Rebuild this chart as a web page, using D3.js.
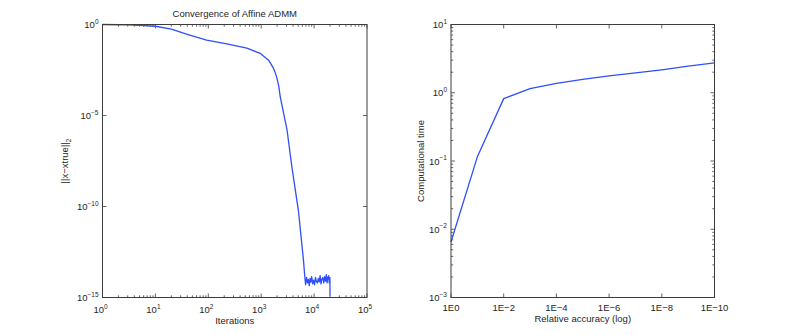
<!DOCTYPE html>
<html>
<head>
<meta charset="utf-8">
<script src="https://cdn.jsdelivr.net/npm/d3@7"></script>
<style>
body { margin: 0; background: #fff; }
svg text { font-family: "Liberation Sans", Arial, sans-serif; fill: #262626; font-size: 9.5px; }
</style>
</head>
<body>
<svg id="chart" width="789" height="335"></svg>
<script>
// left panel: ||x - xtrue||_2 against iterations
var iterations = [1, 2, 3, 5, 10, 20, 40, 60, 93, 224, 537, 955, 1380, 1700, 1870, 1990, 2150, 2300, 3080, 3800, 5050, 6300, 6650,
    6900, 7200, 7500, 7800, 8100, 8400, 8700, 9000, 9400, 9800, 10200, 10600, 11000, 11500, 12000, 12500, 13000,
    13500, 14000, 14600, 15200, 15800, 16400, 17000, 17600, 18200, 18800, 19400, 19900, 20000];
var errors = [1.0, 0.97, 0.95, 0.9, 0.8, 0.56, 0.29, 0.2, 0.14, 0.086, 0.05, 0.026, 0.011, 0.004, 0.002, 0.0011, 0.0004, 0.0001, 1.6e-6, 1.5e-8, 6e-11, 1.1e-13, 1.6e-14,
    5.0e-15, 1.26e-14, 6.3e-15, 1.0e-14, 4.5e-15, 1.12e-14, 7.1e-15, 1.41e-14, 5.6e-15, 8.9e-15, 5.0e-15, 1.26e-14, 7.9e-15,
    6.3e-15, 1.12e-14, 7.1e-15, 1.58e-14, 5.6e-15, 1.0e-14, 1.26e-14, 6.3e-15, 1.41e-14, 7.9e-15, 1.78e-14, 6.3e-15,
    1.26e-14, 1.58e-14, 6.3e-15, 1.26e-14, 1.26e-15];
var xTicksLeft = [1, 10, 100, 1e3, 1e4, 1e5];
var xTickExpLeft = ['0', '1', '2', '3', '4', '5'];
var yTicksLeft = [1, 1e-5, 1e-10, 1e-15];
var yTickExpLeft = ['0', '\u22125', '\u221210', '\u221215'];

// right panel: computational time against relative accuracy
var accuracy = [1, 1e-1, 1e-2, 1e-3, 1e-4, 1e-5, 1e-6, 1e-7, 1e-8, 1e-9, 1e-10];
var compTime = [0.0065, 0.115, 0.82, 1.15, 1.37, 1.57, 1.77, 1.96, 2.17, 2.45, 2.74];
var xTicksRight = [1, 1e-2, 1e-4, 1e-6, 1e-8, 1e-10];
var xTickLabelsRight = ['1E0', '1E\u22122', '1E\u22124', '1E\u22126', '1E\u22128', '1E\u221210'];
var yTicksRight = [10, 1, 0.1, 0.01, 0.001];
var yTickExpRight = ['1', '0', '\u22121', '\u22122', '\u22123'];

var svg = d3.select('#chart');
var axisColor = '#3c3c3c';
var lineColor = '#2f4ffa';

var top_ = 24.5, bottom = 297.5;

function pow10(text, exp) {
    text.append('tspan').text('10');
    text.append('tspan').attr('dy', -4.5).attr('font-size', '6.5px').text(exp);
}

function frame(g, x0, x1) {
    g.append('rect')
        .attr('x', x0).attr('y', top_)
        .attr('width', x1 - x0).attr('height', bottom - top_)
        .attr('fill', 'none').attr('stroke', axisColor).attr('stroke-width', 1);
}

function xTick(g, x, len) {
    g.append('line').attr('x1', x).attr('x2', x).attr('y1', bottom).attr('y2', bottom - len)
        .attr('stroke', axisColor).attr('stroke-width', 0.8);
    g.append('line').attr('x1', x).attr('x2', x).attr('y1', top_).attr('y2', top_ + len)
        .attr('stroke', axisColor).attr('stroke-width', 0.8);
}

function yTick(g, y, x0, x1, len) {
    g.append('line').attr('x1', x0).attr('x2', x0 + len).attr('y1', y).attr('y2', y)
        .attr('stroke', axisColor).attr('stroke-width', 0.8);
    g.append('line').attr('x1', x1).attr('x2', x1 - len).attr('y1', y).attr('y2', y)
        .attr('stroke', axisColor).attr('stroke-width', 0.8);
}

// ---------- left panel ----------
var lx0 = 102.5, lx1 = 367;
var xLeft = d3.scaleLog().domain([1, 1e5]).range([lx0, lx1]);
var yLeft = d3.scaleLog().domain([1e-15, 1]).range([bottom, top_]);
var left = svg.append('g');

xLeft.ticks().forEach(function (t) {
    var major = xTicksLeft.indexOf(t) >= 0;
    xTick(left, xLeft(t), major ? 4 : 2.2);
});
yTicksLeft.forEach(function (t) { yTick(left, yLeft(t), lx0, lx1, 4); });

left.append('path')
    .datum(iterations.map(function (d, i) { return [d, errors[i]]; }))
    .attr('fill', 'none')
    .attr('stroke', lineColor)
    .attr('stroke-width', 1.3)
    .attr('stroke-linejoin', 'round')
    .attr('d', d3.line().x(function (d) { return xLeft(d[0]); }).y(function (d) { return yLeft(d[1]); }));

frame(left, lx0, lx1);

xTicksLeft.forEach(function (t, i) {
    var txt = left.append('text').attr('x', xLeft(t) - 2).attr('y', 313).attr('text-anchor', 'middle');
    pow10(txt, xTickExpLeft[i]);
});
yTicksLeft.forEach(function (t, i) {
    var txt = left.append('text').attr('x', lx0 - 4).attr('y', yLeft(t) + 3.5).attr('text-anchor', 'end');
    pow10(txt, yTickExpLeft[i]);
});

left.append('text').attr('x', (lx0 + lx1) / 2).attr('y', 16.5).attr('text-anchor', 'middle')
    .text('Convergence of Affine ADMM');
left.append('text').attr('x', (lx0 + lx1) / 2).attr('y', 324).attr('text-anchor', 'middle')
    .text('Iterations');
var yl = left.append('text').attr('text-anchor', 'middle')
    .attr('transform', 'translate(68,' + (top_ + bottom) / 2 + ') rotate(-90)');
yl.append('tspan').text('||x\u2212xtrue||');
yl.append('tspan').attr('dy', 3).attr('font-size', '6.5px').text('2');

// ---------- right panel ----------
var rx0 = 451, rx1 = 714.5;
var xRight = d3.scaleLog().domain([1, 1e-10]).range([rx0, rx1]);
var yRight = d3.scaleLog().domain([1e-3, 10]).range([bottom, top_]);
var right = svg.append('g');

xTicksRight.forEach(function (t) { xTick(right, xRight(t), 4); });
yRight.ticks().forEach(function (t) {
    var major = yTicksRight.some(function (m) { return Math.abs(m - t) / m < 1e-9; });
    yTick(right, yRight(t), rx0, rx1, major ? 4 : 2.2);
});

right.append('path')
    .datum(accuracy.map(function (d, i) { return [d, compTime[i]]; }))
    .attr('fill', 'none')
    .attr('stroke', lineColor)
    .attr('stroke-width', 1.3)
    .attr('stroke-linejoin', 'round')
    .attr('d', d3.line().x(function (d) { return xRight(d[0]); }).y(function (d) { return yRight(d[1]); }));

frame(right, rx0, rx1);

xTicksRight.forEach(function (t, i) {
    right.append('text').attr('x', xRight(t)).attr('y', 310.5).attr('text-anchor', 'middle')
        .text(xTickLabelsRight[i]);
});
yTicksRight.forEach(function (t, i) {
    var txt = right.append('text').attr('x', rx0 - 4).attr('y', yRight(t) + 3.5).attr('text-anchor', 'end');
    pow10(txt, yTickExpRight[i]);
});

right.append('text').attr('x', (rx0 + rx1) / 2).attr('y', 322).attr('text-anchor', 'middle')
    .text('Relative accuracy (log)');
right.append('text').attr('text-anchor', 'middle')
    .attr('transform', 'translate(424,' + (top_ + bottom) / 2 + ') rotate(-90)')
    .text('Computational time');
</script>
</body>
</html>
